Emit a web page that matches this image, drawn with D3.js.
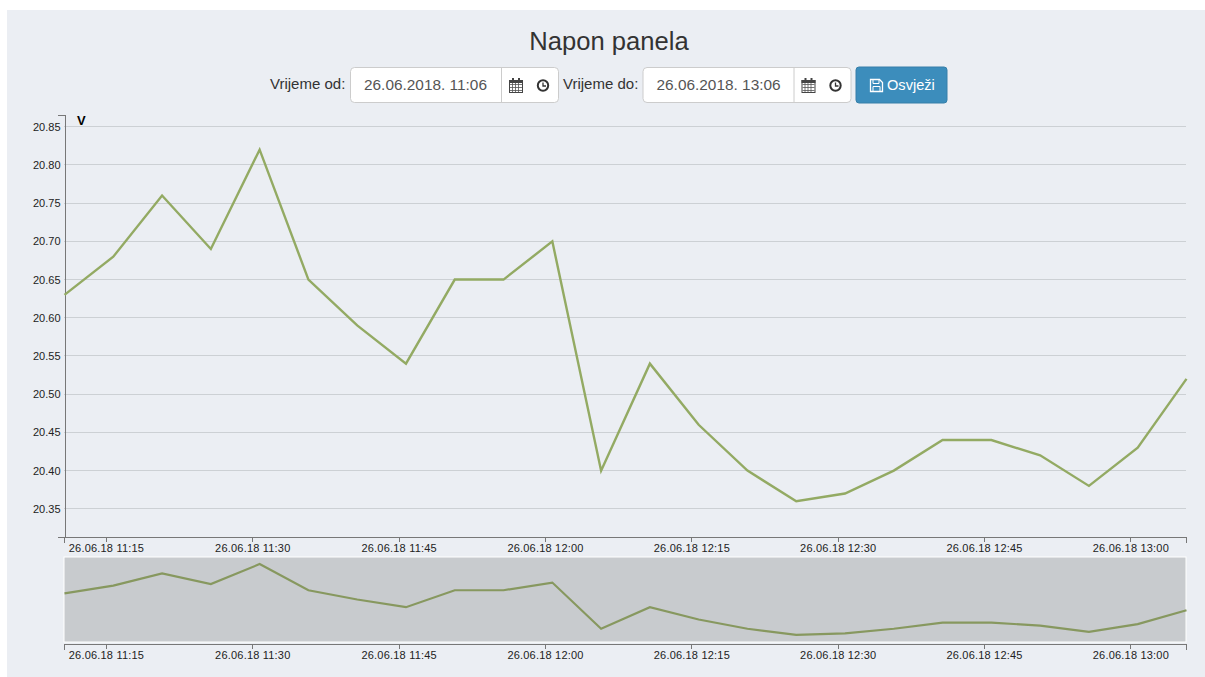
<!DOCTYPE html>
<html>
<head>
<meta charset="utf-8">
<title>Napon panela</title>
<script src="https://d3js.org/d3.v7.min.js"></script>
<style>
  html, body { margin: 0; padding: 0; background: #fff; }
  body { width: 1205px; height: 677px; overflow: hidden; font-family: "Liberation Sans", Arial, sans-serif; }
  svg { display: block; }
  .tick text { font-family: "Liberation Sans", Arial, sans-serif; font-size: 11px; fill: #222; }
  .xaxis .tick text { letter-spacing: 0.2px; }
  .axis path, .axis line { stroke: #777; fill: none; shape-rendering: crispEdges; }
  .grid line { stroke: #ccd0d4; shape-rendering: crispEdges; }
</style>
</head>
<body>
<div id="display"></div>
<script>
var times = ["11:10:42","11:15:42","11:20:42","11:25:42","11:30:42","11:35:42","11:40:42","11:45:42",
             "11:50:42","11:55:42","12:00:42","12:05:42","12:10:42","12:15:42","12:20:42","12:25:42",
             "12:30:42","12:35:42","12:40:42","12:45:42","12:50:42","12:55:42","13:00:42","13:05:42"];
var volts = [20.63,20.68,20.76,20.69,20.82,20.65,20.59,20.54,20.65,20.65,20.70,20.40,
             20.54,20.46,20.40,20.36,20.37,20.40,20.44,20.44,20.42,20.38,20.43,20.52];
var voltTicks = [20.35,20.40,20.45,20.50,20.55,20.60,20.65,20.70,20.75,20.80,20.85];
var voltRange = [20.3138,20.866];

var parseTime = d3.timeParse("%Y-%m-%d %H:%M:%S");
var fmtTick = d3.timeFormat("%d.%m.%y %H:%M");
var data = times.map(function(t, i) { return {date: parseTime("2018-06-26 " + t), value: volts[i]}; });

var left = 64, right = 1186;
var svg = d3.select("#display").append("svg").attr("width", 1205).attr("height", 677);

svg.append("rect").attr("x", 7).attr("y", 10).attr("width", 1198).attr("height", 667).attr("fill", "#ebeef3");

var x = d3.scaleTime().domain(d3.extent(data, function(d) { return d.date; })).range([left, right]);
var y = d3.scaleLinear().domain(voltRange).range([536.5, 114.5]);
var y2 = d3.scaleLinear().domain(voltRange).range([642, 557]);

var xAxis = d3.axisBottom(x).ticks(d3.timeMinute.every(15)).tickFormat(fmtTick).tickSize(5).tickSizeOuter(6);

// main chart
svg.append("g").attr("class", "grid").selectAll("line").data(voltTicks).enter().append("line")
  .attr("x1", left).attr("x2", right)
  .attr("y1", function(d) { return y(d); })
  .attr("y2", function(d) { return y(d); });

svg.append("g").attr("class", "axis xaxis")
  .attr("transform", "translate(0,536.5)")
  .call(xAxis);

svg.append("g").attr("class", "axis")
  .attr("transform", "translate(64.5,0)")
  .call(d3.axisLeft(y).tickValues(voltTicks).tickFormat(d3.format(".2f")).tickSize(0).tickSizeOuter(7).tickPadding(4));

var line = d3.line().x(function(d) { return x(d.date) + 0.5; }).y(function(d) { return y(d.value); });
svg.append("path").datum(data).attr("d", line)
  .attr("fill", "none").attr("stroke", "#93aa63").attr("stroke-width", 2.4);

svg.append("text").text("V").attr("x", 77).attr("y", 125)
  .attr("font-size", 13).attr("font-weight", "bold").attr("fill", "#000");

// overview chart
svg.append("rect").attr("x", left).attr("y", 557).attr("width", right - left).attr("height", 85)
  .attr("fill", "#c8cbce").attr("stroke", "#fff").attr("stroke-width", 1);

var line2 = d3.line().x(function(d) { return x(d.date) + 0.5; }).y(function(d) { return y2(d.value); });
svg.append("path").datum(data).attr("d", line2)
  .attr("fill", "none").attr("stroke", "#87985f").attr("stroke-width", 2.2);

svg.append("g").attr("class", "axis xaxis")
  .attr("transform", "translate(0,643.5)")
  .call(xAxis);

// title
svg.append("text").text("Napon panela").attr("x", 609).attr("y", 50)
  .attr("text-anchor", "middle").attr("font-size", 25.6).attr("fill", "#333");

// date pickers
function picker(labelX, boxX, label, value) {
  svg.append("text").text(label).attr("x", labelX).attr("y", 89)
    .attr("font-size", 15).attr("fill", "#333");
  var g = svg.append("g").attr("transform", "translate(" + boxX + ",67)");
  g.append("rect").attr("x", 0.5).attr("y", 0.5).attr("width", 208).attr("height", 35).attr("rx", 4)
    .attr("fill", "#fff").attr("stroke", "#ccc");
  g.append("line").attr("x1", 151.5).attr("x2", 151.5).attr("y1", 1).attr("y2", 35).attr("stroke", "#ccc");
  g.append("text").text(value).attr("x", 14).attr("y", 22.5)
    .attr("font-size", 15.4).attr("fill", "#555");
  // calendar icon
  var c = g.append("g").attr("transform", "translate(159,11)");
  c.append("rect").attr("x", 0.5).attr("y", 2.5).attr("width", 13).attr("height", 12).attr("fill", "none").attr("stroke", "#444");
  c.append("rect").attr("x", 0).attr("y", 2).attr("width", 14).attr("height", 3).attr("fill", "#444");
  c.append("rect").attr("x", 3).attr("y", 0).attr("width", 2).attr("height", 3).attr("fill", "#444");
  c.append("rect").attr("x", 9).attr("y", 0).attr("width", 2).attr("height", 3).attr("fill", "#444");
  [4, 7, 10].forEach(function(p) {
    c.append("line").attr("x1", p - 0.5).attr("x2", p - 0.5).attr("y1", 5).attr("y2", 14).attr("stroke", "#555").attr("stroke-width", 0.8);
    c.append("line").attr("x1", 1).attr("x2", 13).attr("y1", p + 2.5).attr("y2", p + 2.5).attr("stroke", "#555").attr("stroke-width", 0.8);
  });
  // clock icon
  var k = g.append("g").attr("transform", "translate(193,18.5)");
  k.append("circle").attr("r", 5.2).attr("fill", "none").attr("stroke", "#333").attr("stroke-width", 2);
  k.append("path").attr("d", "M0,-3V0.5H3").attr("fill", "none").attr("stroke", "#333").attr("stroke-width", 1.3);
}
picker(270, 350, "Vrijeme od:", "26.06.2018. 11:06");
picker(563, 642.5, "Vrijeme do:", "26.06.2018. 13:06");

// refresh button
var btn = svg.append("g").attr("transform", "translate(856,67)");
btn.append("rect").attr("width", 91).attr("height", 36).attr("rx", 3).attr("fill", "#3c8dbc").attr("stroke", "#367fa9");
var fl = btn.append("g").attr("transform", "translate(14,12)").attr("fill", "none").attr("stroke", "#fff");
fl.append("path").attr("d", "M0.5,0.5H9.5L12.5,3.5V12.5H0.5Z").attr("stroke-width", 1.3);
fl.append("path").attr("d", "M3,1V4.5H9V1M3,12V7.5H10V12").attr("stroke-width", 1);
btn.append("text").text("Osvježi").attr("x", 31).attr("y", 23).attr("font-size", 14.6).attr("fill", "#fff");
</script>
</body>
</html>
